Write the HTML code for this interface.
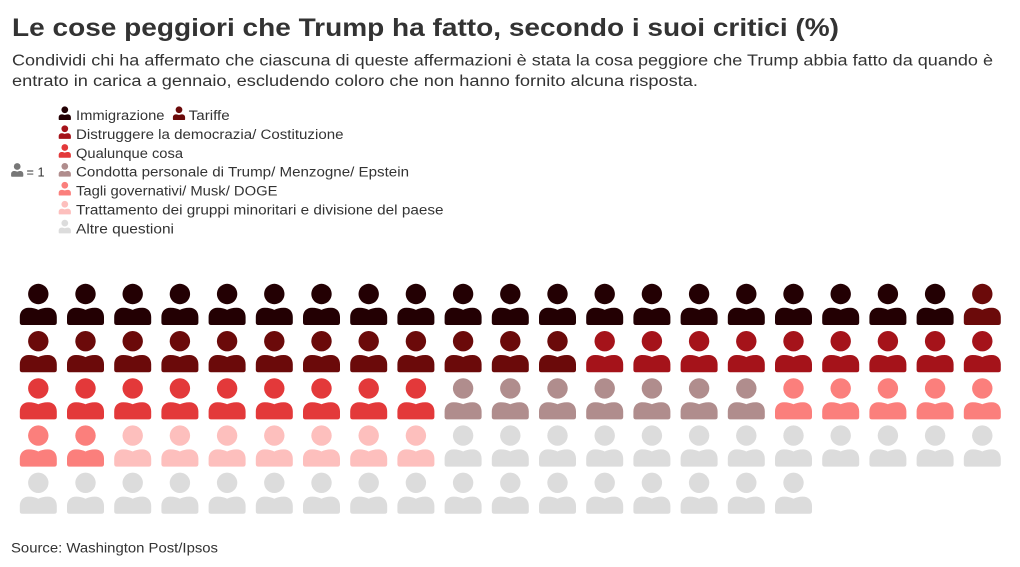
<!DOCTYPE html>
<html>
<head>
<meta charset="utf-8">
<style>
html,body{margin:0;padding:0;background:#fff;}
svg{display:block;}
text{font-family:"Liberation Sans",sans-serif;fill:#333;}
</style>
</head>
<body>
<svg width="1020" height="567" viewBox="0 0 1020 567" xmlns="http://www.w3.org/2000/svg">
<defs>
<g id="u">
<circle cx="0" cy="0" r="10.2"/>
<path d="M-18.5,28.5 L-18.5,23 C-18.5,17.5 -15,13.8 -9.5,13.8 C-5.5,13.8 -2.5,14.7 0,15.9 C2.5,14.7 5.5,13.8 9.5,13.8 C15,13.8 18.5,17.5 18.5,23 L18.5,28.5 Q18.5,31 16,31 L-16,31 Q-18.5,31 -18.5,28.5 Z"/>
</g>
</defs>

<!-- Title -->
<text x="12" y="36" font-size="25" font-weight="bold" textLength="827" lengthAdjust="spacingAndGlyphs">Le cose peggiori che Trump ha fatto, secondo i suoi critici (%)</text>
<text x="12" y="65.7" font-size="15.5" textLength="981" lengthAdjust="spacingAndGlyphs">Condividi chi ha affermato che ciascuna di queste affermazioni è stata la cosa peggiore che Trump abbia fatto da quando è</text>
<text x="12" y="86" font-size="15.5" textLength="686" lengthAdjust="spacingAndGlyphs">entrato in carica a gennaio, escludendo coloro che non hanno fornito alcuna risposta.</text>

<!-- Legend -->
<g transform="translate(17.2,166.5) scale(0.33)" fill="#777"><use href="#u"/></g>
<text x="26.5" y="176.7" font-size="13" textLength="18" lengthAdjust="spacingAndGlyphs">= 1</text>

<g transform="translate(64.8,109.8) scale(0.33)" fill="#230003"><use href="#u"/></g>
<text x="76" y="120" font-size="13.5" textLength="88.5" lengthAdjust="spacingAndGlyphs">Immigrazione</text>
<g transform="translate(179,109.8) scale(0.33)" fill="#6b0a0a"><use href="#u"/></g>
<text x="188.7" y="120" font-size="13.5" textLength="41" lengthAdjust="spacingAndGlyphs">Tariffe</text>

<g transform="translate(64.8,128.7) scale(0.33)" fill="#a5131a"><use href="#u"/></g>
<text x="76" y="139" font-size="13.5" textLength="267.5" lengthAdjust="spacingAndGlyphs">Distruggere la democrazia/ Costituzione</text>

<g transform="translate(64.8,147.5) scale(0.33)" fill="#e3393a"><use href="#u"/></g>
<text x="76" y="157.8" font-size="13.5" textLength="107" lengthAdjust="spacingAndGlyphs">Qualunque cosa</text>

<g transform="translate(64.8,166.4) scale(0.33)" fill="#b08d8d"><use href="#u"/></g>
<text x="76" y="176.7" font-size="13.5" textLength="333" lengthAdjust="spacingAndGlyphs">Condotta personale di Trump/ Menzogne/ Epstein</text>

<g transform="translate(64.8,185.3) scale(0.33)" fill="#fb7f7c"><use href="#u"/></g>
<text x="76" y="195.6" font-size="13.5" textLength="201.5" lengthAdjust="spacingAndGlyphs">Tagli governativi/ Musk/ DOGE</text>

<g transform="translate(64.8,204.2) scale(0.33)" fill="#fdbfbd"><use href="#u"/></g>
<text x="76" y="214.5" font-size="13.5" textLength="367.5" lengthAdjust="spacingAndGlyphs">Trattamento dei gruppi minoritari e divisione del paese</text>

<g transform="translate(64.8,223.1) scale(0.33)" fill="#dcdcdc"><use href="#u"/></g>
<text x="76" y="233.4" font-size="13.5" textLength="98" lengthAdjust="spacingAndGlyphs">Altre questioni</text>

<!-- Icons -->
<g fill="#230003">
<use href="#u" x="38.3" y="294"/><use href="#u" x="85.5" y="294"/><use href="#u" x="132.7" y="294"/><use href="#u" x="179.9" y="294"/><use href="#u" x="227.1" y="294"/><use href="#u" x="274.3" y="294"/><use href="#u" x="321.5" y="294"/><use href="#u" x="368.7" y="294"/><use href="#u" x="415.9" y="294"/><use href="#u" x="463.1" y="294"/><use href="#u" x="510.3" y="294"/><use href="#u" x="557.5" y="294"/><use href="#u" x="604.7" y="294"/><use href="#u" x="651.9" y="294"/><use href="#u" x="699.1" y="294"/><use href="#u" x="746.3" y="294"/><use href="#u" x="793.5" y="294"/><use href="#u" x="840.7" y="294"/><use href="#u" x="887.9" y="294"/><use href="#u" x="935.1" y="294"/>
</g>
<g fill="#6b0a0a">
<use href="#u" x="982.3" y="294"/>
<use href="#u" x="38.3" y="341.2"/><use href="#u" x="85.5" y="341.2"/><use href="#u" x="132.7" y="341.2"/><use href="#u" x="179.9" y="341.2"/><use href="#u" x="227.1" y="341.2"/><use href="#u" x="274.3" y="341.2"/><use href="#u" x="321.5" y="341.2"/><use href="#u" x="368.7" y="341.2"/><use href="#u" x="415.9" y="341.2"/><use href="#u" x="463.1" y="341.2"/><use href="#u" x="510.3" y="341.2"/><use href="#u" x="557.5" y="341.2"/>
</g>
<g fill="#a5131a">
<use href="#u" x="604.7" y="341.2"/><use href="#u" x="651.9" y="341.2"/><use href="#u" x="699.1" y="341.2"/><use href="#u" x="746.3" y="341.2"/><use href="#u" x="793.5" y="341.2"/><use href="#u" x="840.7" y="341.2"/><use href="#u" x="887.9" y="341.2"/><use href="#u" x="935.1" y="341.2"/><use href="#u" x="982.3" y="341.2"/>
</g>
<g fill="#e3393a">
<use href="#u" x="38.3" y="388.4"/><use href="#u" x="85.5" y="388.4"/><use href="#u" x="132.7" y="388.4"/><use href="#u" x="179.9" y="388.4"/><use href="#u" x="227.1" y="388.4"/><use href="#u" x="274.3" y="388.4"/><use href="#u" x="321.5" y="388.4"/><use href="#u" x="368.7" y="388.4"/><use href="#u" x="415.9" y="388.4"/>
</g>
<g fill="#b08d8d">
<use href="#u" x="463.1" y="388.4"/><use href="#u" x="510.3" y="388.4"/><use href="#u" x="557.5" y="388.4"/><use href="#u" x="604.7" y="388.4"/><use href="#u" x="651.9" y="388.4"/><use href="#u" x="699.1" y="388.4"/><use href="#u" x="746.3" y="388.4"/>
</g>
<g fill="#fb7f7c">
<use href="#u" x="793.5" y="388.4"/><use href="#u" x="840.7" y="388.4"/><use href="#u" x="887.9" y="388.4"/><use href="#u" x="935.1" y="388.4"/><use href="#u" x="982.3" y="388.4"/>
<use href="#u" x="38.3" y="435.6"/><use href="#u" x="85.5" y="435.6"/>
</g>
<g fill="#fdbfbd">
<use href="#u" x="132.7" y="435.6"/><use href="#u" x="179.9" y="435.6"/><use href="#u" x="227.1" y="435.6"/><use href="#u" x="274.3" y="435.6"/><use href="#u" x="321.5" y="435.6"/><use href="#u" x="368.7" y="435.6"/><use href="#u" x="415.9" y="435.6"/>
</g>
<g fill="#dcdcdc">
<use href="#u" x="463.1" y="435.6"/><use href="#u" x="510.3" y="435.6"/><use href="#u" x="557.5" y="435.6"/><use href="#u" x="604.7" y="435.6"/><use href="#u" x="651.9" y="435.6"/><use href="#u" x="699.1" y="435.6"/><use href="#u" x="746.3" y="435.6"/><use href="#u" x="793.5" y="435.6"/><use href="#u" x="840.7" y="435.6"/><use href="#u" x="887.9" y="435.6"/><use href="#u" x="935.1" y="435.6"/><use href="#u" x="982.3" y="435.6"/>
<use href="#u" x="38.3" y="482.8"/><use href="#u" x="85.5" y="482.8"/><use href="#u" x="132.7" y="482.8"/><use href="#u" x="179.9" y="482.8"/><use href="#u" x="227.1" y="482.8"/><use href="#u" x="274.3" y="482.8"/><use href="#u" x="321.5" y="482.8"/><use href="#u" x="368.7" y="482.8"/><use href="#u" x="415.9" y="482.8"/><use href="#u" x="463.1" y="482.8"/><use href="#u" x="510.3" y="482.8"/><use href="#u" x="557.5" y="482.8"/><use href="#u" x="604.7" y="482.8"/><use href="#u" x="651.9" y="482.8"/><use href="#u" x="699.1" y="482.8"/><use href="#u" x="746.3" y="482.8"/><use href="#u" x="793.5" y="482.8"/>
</g>

<!-- Source -->
<text x="11" y="552.7" font-size="14" textLength="207" lengthAdjust="spacingAndGlyphs">Source: Washington Post/Ipsos</text>
</svg>
</body>
</html>
